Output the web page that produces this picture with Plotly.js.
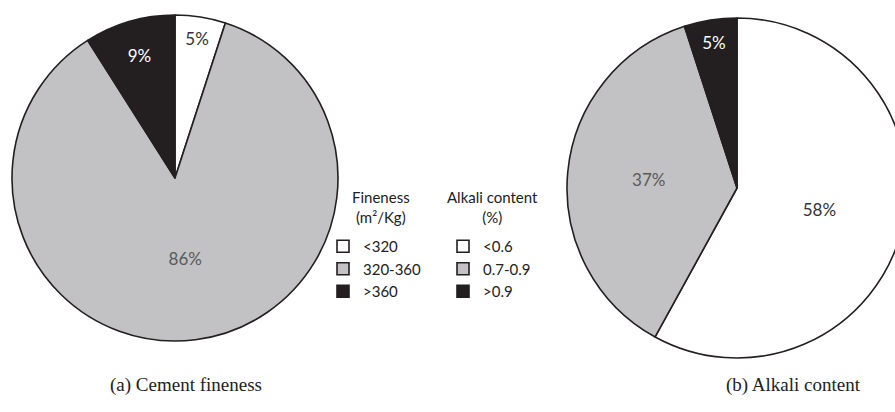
<!DOCTYPE html>
<html><head><meta charset="utf-8">
<script src="https://cdn.plot.ly/plotly-3.0.1.min.js"></script>
<style>html,body{margin:0;padding:0;overflow:hidden;background:#fff}#chart{width:915px;height:412px}</style>
</head><body><div id="chart"></div>
<script>
const finenessLabels = ['<320', '320-360', '>360'];
const finenessValues = [5, 86, 9];
const alkaliLabels = ['<0.6', '0.7-0.9', '>0.9'];
const alkaliValues = [58, 37, 5];
const finenessTitle = 'Fineness<br>(m²/Kg)';
const alkaliTitle = 'Alkali content<br>(%)';
const captions = ['(a) Cement fineness', '(b) Alkali content'];

const W = 915, H = 412;
const sliceColors = ['#ffffff', '#c2c2c4', '#231f20'];
const labelFont = 'Lato, "Open Sans", sans-serif';

function pie(labels, values, domain, legend, textColors) {
  return {
    type: 'pie', labels: labels, values: values, sort: false,
    direction: 'clockwise', rotation: 0, domain: domain, legend: legend,
    marker: {colors: sliceColors, line: {color: '#231f20', width: 1.6}},
    texttemplate: '%{value}%', textposition: 'inside',
    insidetextorientation: 'horizontal',
    textfont: {family: labelFont, size: 17, color: textColors},
    hoverinfo: 'none'
  };
}

const data = [
  pie(finenessLabels, finenessValues,
      {x: [12 / W, 338 / W], y: [1 - 341 / H, 1 - 15 / H]}, 'legend',
      ['#333333', '#5a5a5a', '#ffffff']),
  pie(alkaliLabels, alkaliValues,
      {x: [567 / W, 907 / W], y: [1 - 358 / H, 1 - 18 / H]}, 'legend2',
      ['#333333', '#5a5a5a', '#ffffff'])
];

const legendBase = {
  xanchor: 'left', yanchor: 'top', y: 1 - 230 / H,
  font: {family: labelFont, size: 15, color: '#222'},
  bgcolor: 'rgba(0,0,0,0)', traceorder: 'normal'
};

const annoBase = {xref: 'paper', yref: 'paper', showarrow: false,
  xanchor: 'center', yanchor: 'middle', align: 'center'};

const layout = {
  width: W, height: H,
  margin: {l: 0, r: 0, t: 0, b: 0},
  paper_bgcolor: '#ffffff',
  showlegend: true,
  legend: Object.assign({}, legendBase, {x: 323 / W}),
  legend2: Object.assign({}, legendBase, {x: 443 / W}),
  annotations: [
    Object.assign({text: finenessTitle, x: 381 / W, y: 1 - 207 / H,
      font: {family: labelFont, size: 15, color: '#222'}}, annoBase),
    Object.assign({text: alkaliTitle, x: 492 / W, y: 1 - 207 / H,
      font: {family: labelFont, size: 15, color: '#222'}}, annoBase),
    Object.assign({text: captions[0], x: 186 / W, y: 1 - 385 / H,
      font: {family: '"Liberation Serif", "Times New Roman", serif', size: 19, color: '#222'}}, annoBase),
    Object.assign({text: captions[1], x: 793 / W, y: 1 - 385 / H,
      font: {family: '"Liberation Serif", "Times New Roman", serif', size: 19, color: '#222'}}, annoBase)
  ]
};

Plotly.newPlot('chart', data, layout, {displayModeBar: false, staticPlot: true});
</script></body></html>
